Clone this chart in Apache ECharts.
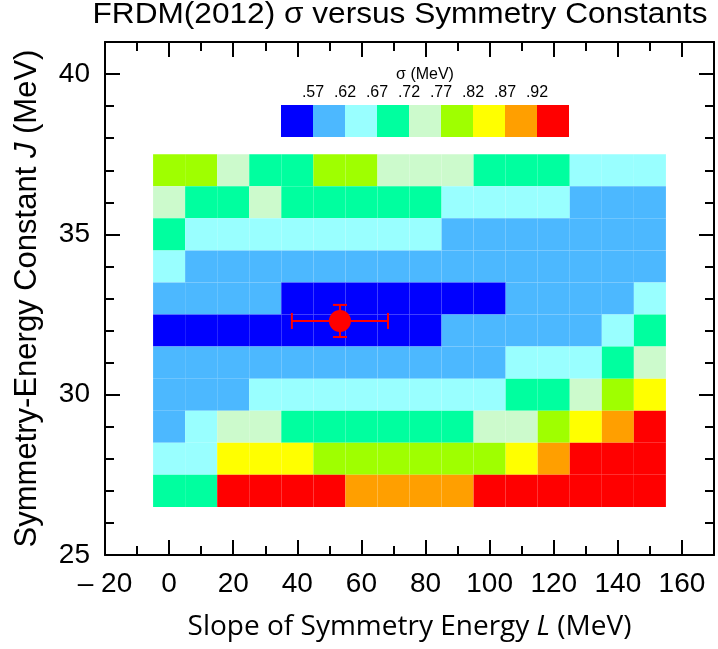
<!DOCTYPE html>
<html>
<head>
<meta charset="utf-8">
<script src="https://cdn.jsdelivr.net/npm/echarts@6/dist/echarts.min.js"></script>
<style>html,body{margin:0;padding:0;background:#fff;}#c{width:718px;height:649px;}</style>
</head>
<body>
<div id="c"></div>
<script>
// ---- data ----
const Lvalues = [0, 10, 20, 30, 40, 50, 60, 70, 80, 90, 100, 110, 120, 130, 140, 150];
const Jvalues = [37, 36, 35, 34, 33, 32, 31, 30, 29, 28, 27];
// sigma (MeV) per row, one row per J value (top to bottom), columns follow Lvalues
const sigmaJ37 = [0.795,0.795,0.745,0.695,0.695,0.795,0.795,0.745,0.745,0.745,0.695,0.695,0.695,0.645,0.645,0.645];
const sigmaJ36 = [0.745,0.695,0.695,0.745,0.695,0.695,0.695,0.695,0.695,0.645,0.645,0.645,0.645,0.595,0.595,0.595];
const sigmaJ35 = [0.695,0.645,0.645,0.645,0.645,0.645,0.645,0.645,0.645,0.595,0.595,0.595,0.595,0.595,0.595,0.595];
const sigmaJ34 = [0.645,0.595,0.595,0.595,0.595,0.595,0.595,0.595,0.595,0.595,0.595,0.595,0.595,0.595,0.595,0.595];
const sigmaJ33 = [0.595,0.595,0.595,0.595,0.550,0.550,0.550,0.550,0.550,0.550,0.550,0.595,0.595,0.595,0.595,0.645];
const sigmaJ32 = [0.550,0.550,0.550,0.550,0.550,0.550,0.550,0.550,0.550,0.595,0.595,0.595,0.595,0.595,0.645,0.695];
const sigmaJ31 = [0.595,0.595,0.595,0.595,0.595,0.595,0.595,0.595,0.595,0.595,0.595,0.645,0.645,0.645,0.695,0.745];
const sigmaJ30 = [0.595,0.595,0.595,0.645,0.645,0.645,0.645,0.645,0.645,0.645,0.645,0.695,0.695,0.745,0.795,0.845];
const sigmaJ29 = [0.595,0.645,0.745,0.745,0.695,0.695,0.695,0.695,0.695,0.695,0.745,0.745,0.795,0.845,0.895,0.940];
const sigmaJ28 = [0.645,0.645,0.845,0.845,0.845,0.795,0.795,0.795,0.795,0.795,0.795,0.845,0.895,0.940,0.940,0.940];
const sigmaJ27 = [0.695,0.695,0.940,0.940,0.940,0.940,0.895,0.895,0.895,0.895,0.940,0.940,0.940,0.940,0.940,0.940];
const sigmaRows = [sigmaJ37, sigmaJ36, sigmaJ35, sigmaJ34, sigmaJ33, sigmaJ32, sigmaJ31, sigmaJ30, sigmaJ29, sigmaJ28, sigmaJ27];

// colour scale thresholds and labels
const thresholds = [0.57, 0.62, 0.67, 0.72, 0.77, 0.82, 0.87, 0.92];
const thresholdLabels = ['.57', '.62', '.67', '.72', '.77', '.82', '.87', '.92'];
const classColors = ['#0000ff', '#4cb8ff', '#99ffff', '#00ff9f', '#ccfacc', '#9fff00', '#ffff00', '#ff9f00', '#ff0000'];

// FRDM(2012) point with error bars
const pointL = [53.3];
const pointJ = [32.3];
const pointErrL = [15];
const pointErrJ = [0.5];

// axis ticks
const xMin = -20, xMax = 170, xMajor = 20, xMinor = 10;
const yMin = 25, yMax = 41, yMajor = 5, yMinor = 1;

// ---- build ----
const cellData = [];
Jvalues.forEach((J, r) => {
  Lvalues.forEach((L, c) => { cellData.push([L, J, sigmaRows[r][c]]); });
});
const cellHalfW = (Lvalues[1] - Lvalues[0]) / 2;
const cellHalfH = Math.abs(Jvalues[0] - Jvalues[1]) / 2;

const pieces = [];
for (let i = 0; i <= thresholds.length; i++) {
  const p = { color: classColors[i] };
  if (i > 0) p.gte = thresholds[i - 1];
  if (i < thresholds.length) p.lt = thresholds[i];
  pieces.push(p);
}

const FONT = 'Liberation Sans, Arial, Helvetica, sans-serif';
const lineBlack = { color: '#000', width: 2 };

function mkX(pos, interval, len, main) {
  return {
    type: 'value', position: pos, min: xMin, max: xMax, interval: interval,
    axisLine: { show: main, onZero: false, lineStyle: lineBlack },
    axisTick: { show: true, inside: true, length: len, lineStyle: { color: '#000', width: 2 } },
    axisLabel: (main && pos === 'bottom') ? {
      show: true, showMaxLabel: false, color: '#000', fontSize: 28, fontFamily: FONT, margin: 15,
      formatter: v => (v < 0 ? '\u2013 ' + Math.abs(v) : String(v))
    } : { show: false },
    splitLine: { show: false }
  };
}
function mkY(pos, interval, len, main) {
  return {
    type: 'value', position: pos, min: yMin, max: yMax, interval: interval,
    axisLine: { show: main, onZero: false, lineStyle: lineBlack },
    axisTick: { show: true, inside: true, length: len, lineStyle: { color: '#000', width: 2 } },
    axisLabel: (main && pos === 'left') ? {
      show: true, showMaxLabel: false, color: '#000', fontSize: 28, fontFamily: FONT, margin: 15
    } : { show: false },
    splitLine: { show: false }
  };
}

const xAxes = [mkX('bottom', xMajor, 15, true), mkX('bottom', xMinor, 9, false), mkX('top', xMajor, 15, true), mkX('top', xMinor, 9, false)];
xAxes[0].name = 'Slope of Symmetry Energy {i|L} (MeV)';
xAxes[0].nameLocation = 'middle';
xAxes[0].nameGap = 58;
xAxes[0].nameTextStyle = { color: '#000', fontSize: 28, fontFamily: 'Open Sans, sans-serif', rich: { i: { fontStyle: 'italic', fontSize: 28, fontFamily: 'Open Sans, sans-serif', color: '#000' } } };

const yAxes = [mkY('left', yMajor, 15, true), mkY('left', yMinor, 9, false), mkY('right', yMajor, 15, true), mkY('right', yMinor, 9, false)];
yAxes[0].name = 'Symmetry-Energy Constant {i|J} (MeV)';
yAxes[0].nameLocation = 'middle';
yAxes[0].nameGap = 62;
yAxes[0].nameTextStyle = { color: '#000', fontSize: 31, fontFamily: FONT, rich: { i: { fontStyle: 'italic', fontSize: 31, fontFamily: FONT, color: '#000' } } };

const legendLeft = 281, legendTop = 105, legendItem = 32;
const graphics = [
  { type: 'text', x: 400, y: 15, scaleX: 1.09, style: { text: 'FRDM(2012) \u03c3 versus Symmetry Constants', font: '29px ' + FONT, fill: '#000', textAlign: 'center', textVerticalAlign: 'middle' } },
  { type: 'text', x: legendLeft + legendItem * pieces.length / 2, y: 75, style: { text: '\u03c3 (MeV)', font: '16px ' + FONT, fill: '#000', textAlign: 'center', textVerticalAlign: 'middle' } }
];
thresholdLabels.forEach((t, i) => {
  graphics.push({ type: 'text', x: legendLeft + legendItem * (i + 1), y: 93, style: { text: t, font: '16px ' + FONT, fill: '#000', textAlign: 'center', textVerticalAlign: 'middle' } });
});

const pointData = pointL.map((L, i) => [L, pointJ[i], pointErrL[i], pointErrJ[i]]);

const option = {
  animation: false,
  backgroundColor: '#fff',
  grid: { left: 105, top: 42, width: 609, height: 513, containLabel: false },
  xAxis: xAxes,
  yAxis: yAxes,
  visualMap: {
    type: 'piecewise', seriesIndex: 0, dimension: 2, pieces: pieces,
    orient: 'horizontal', left: legendLeft, top: legendTop, itemWidth: legendItem, itemHeight: legendItem,
    itemGap: 0, itemSymbol: 'rect', showLabel: false, padding: 0, selectedMode: false, hoverLink: false
  },
  graphic: graphics,
  series: [
    {
      type: 'custom', xAxisIndex: 0, yAxisIndex: 0, data: cellData, encode: { x: 0, y: 1 },
      renderItem: function (params, api) {
        const L = api.value(0), J = api.value(1);
        const p0 = api.coord([L - cellHalfW, J + cellHalfH]);
        const p1 = api.coord([L + cellHalfW, J - cellHalfH]);
        return { type: 'rect', shape: { x: p0[0], y: p0[1], width: p1[0] - p0[0], height: p1[1] - p0[1] }, style: { fill: api.visual('color') } };
      }
    },
    {
      type: 'custom', xAxisIndex: 0, yAxisIndex: 0, data: pointData, encode: { x: 0, y: 1 },
      renderItem: function (params, api) {
        const L = api.value(0), J = api.value(1), eL = api.value(2), eJ = api.value(3);
        const c = api.coord([L, J]);
        const l = api.coord([L - eL, J]), r = api.coord([L + eL, J]);
        const t = api.coord([L, J + eJ]), b = api.coord([L, J - eJ]);
        const st = { stroke: '#ff0000', lineWidth: 2 };
        const capH = 8, capV = 7;
        return {
          type: 'group', children: [
            { type: 'line', shape: { x1: l[0], y1: l[1], x2: r[0], y2: r[1] }, style: st },
            { type: 'line', shape: { x1: l[0], y1: l[1] - capH, x2: l[0], y2: l[1] + capH }, style: st },
            { type: 'line', shape: { x1: r[0], y1: r[1] - capH, x2: r[0], y2: r[1] + capH }, style: st },
            { type: 'line', shape: { x1: t[0], y1: t[1], x2: b[0], y2: b[1] }, style: st },
            { type: 'line', shape: { x1: t[0] - capV, y1: t[1], x2: t[0] + capV, y2: t[1] }, style: st },
            { type: 'line', shape: { x1: b[0] - capV, y1: b[1], x2: b[0] + capV, y2: b[1] }, style: st },
            { type: 'circle', shape: { cx: c[0], cy: c[1], r: 11 }, style: { fill: '#ff0000' } }
          ]
        };
      }
    }
  ]
};
const chart = echarts.init(document.getElementById('c'), null, { renderer: 'canvas' });
chart.setOption(option);
</script>
</body>
</html>
